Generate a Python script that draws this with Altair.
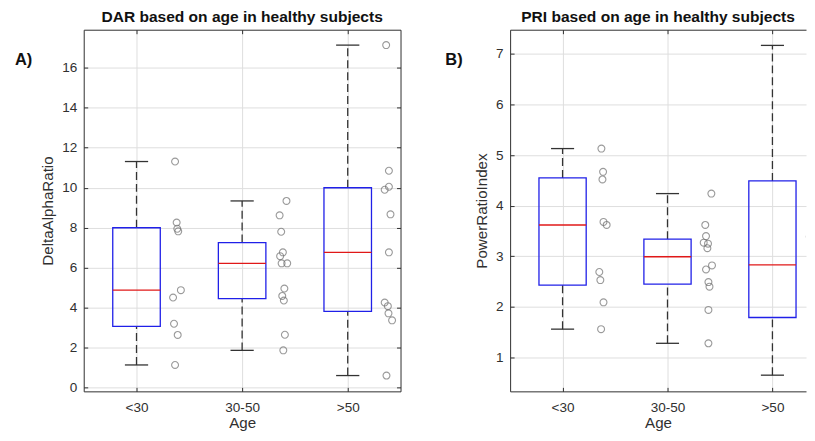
import json
import altair as alt
import pandas as pd

# ---------------- data ----------------
categories = ["<30", "30-50", ">50"]
positions = [1, 2, 3]

# Panel A: DeltaAlphaRatio (box statistics)
dar_q1 = [3.07, 4.46, 3.82]
dar_med = [4.88, 6.22, 6.77]
dar_q3 = [8.00, 7.26, 10.00]
dar_lo = [1.14, 1.87, 0.61]
dar_hi = [11.31, 9.34, 17.13]
dar_ticks = [0, 2, 4, 6, 8, 10, 12, 14, 16]

# Panel A: individual subjects (value, horizontal jitter beside each box)
dar_lt30 = [11.31, 8.26, 7.95, 7.82, 4.88, 4.51, 3.20, 2.64, 1.14]
dar_lt30_jit = [0.365, 0.38, 0.386, 0.395, 0.42, 0.346, 0.355, 0.39, 0.365]
dar_mid = [9.34, 8.62, 7.80, 6.77, 6.58, 6.22, 6.22, 4.96, 4.59, 4.36, 2.65, 1.87]
dar_mid_jit = [0.42, 0.355, 0.37, 0.386, 0.36, 0.374, 0.427, 0.40, 0.38, 0.395, 0.405, 0.39]
dar_gt50 = [17.13, 10.85, 10.05, 9.90, 8.67, 6.77, 4.26, 4.08, 3.72, 3.37, 0.61]
dar_gt50_jit = [0.364, 0.39, 0.39, 0.35, 0.405, 0.39, 0.35, 0.38, 0.386, 0.42, 0.367]

# Panel B: PowerRatioIndex (box statistics)
pri_q1 = [2.43, 2.45, 1.79]
pri_med = [3.62, 2.99, 2.83]
pri_q3 = [4.55, 3.34, 4.49]
pri_lo = [1.56, 1.28, 0.65]
pri_hi = [5.13, 4.24, 7.17]
pri_ticks = [1, 2, 3, 4, 5, 6, 7]

# Panel B: individual subjects
pri_lt30 = [5.13, 4.67, 4.52, 3.68, 3.62, 2.69, 2.53, 2.09, 1.56]
pri_lt30_jit = [0.37, 0.386, 0.38, 0.39, 0.42, 0.35, 0.36, 0.39, 0.367]
pri_mid = [4.24, 3.62, 3.40, 3.27, 3.25, 3.16, 2.82, 2.74, 2.49, 2.40, 1.94, 1.28]
pri_mid_jit = [0.418, 0.36, 0.367, 0.345, 0.386, 0.38, 0.424, 0.367, 0.39, 0.40, 0.39, 0.39]
pri_gt50 = [7.17, 5.73, 4.86, 3.39, 3.15, 3.02, 2.83, 2.60, 1.53, 0.65]
pri_gt50_jit = [0.37, 0.39, 0.39, 0.356, 0.40, 0.39, 0.38, 0.38, 0.37, 0.37]

# ---------------- styling ----------------
FONT = "Liberation Sans"
AXIS_COLOR = "#303030"
GRID_COLOR = "#dedede"
TEXT_COLOR = "#303030"
BOX_W = 0.45
CAP_W = 0.22


def panel(title, letter, letter_x, ylab, q1, med, q3, lo, hi, groups, jits,
          ydomain, yticks, xdomain, width, height, right_border):
    stats = pd.DataFrame({"pos": positions, "q1": q1, "med": med, "q3": q3,
                          "lo": lo, "hi": hi})
    whisk = pd.DataFrame({"pos": positions * 2,
                          "a": list(q3) + list(lo),
                          "b": list(hi) + list(q1)})
    caps = pd.DataFrame({"pos": positions * 2, "v": list(lo) + list(hi)})
    pts = pd.DataFrame({
        "x": [p + j for p, js in zip(positions, jits) for j in js],
        "v": [v for vals in groups for v in vals],
    })

    xs = alt.Scale(domain=xdomain, nice=False, zero=False)
    ys = alt.Scale(domain=ydomain, nice=False, zero=False)
    label_expr = json.dumps(categories) + "[datum.value - 1]"

    ax_bottom = alt.Axis(orient="bottom", values=positions, labelExpr=label_expr,
                         title="Age", grid=True, gridColor=GRID_COLOR, ticks=False,
                         domain=True, domainColor=AXIS_COLOR, labelPadding=9,
                         labelFontSize=13.6, labelColor=TEXT_COLOR, labelFont=FONT,
                         titleFont=FONT, titleFontSize=15.2, titleFontWeight="normal",
                         titleColor=TEXT_COLOR, titlePadding=1.5)
    ax_left = alt.Axis(orient="left", values=yticks, title=ylab, grid=True,
                       gridColor=GRID_COLOR, ticks=False, domain=True,
                       domainColor=AXIS_COLOR, labelPadding=7, labelFontSize=13.6,
                       labelColor=TEXT_COLOR, labelFont=FONT, titleFont=FONT,
                       titleFontSize=15.2, titleFontWeight="normal",
                       titleColor=TEXT_COLOR, titlePadding=6)
    ax_top = alt.Axis(orient="top", labels=False, ticks=False, grid=False,
                      domain=True, domainColor=AXIS_COLOR, title="")
    ax_right = alt.Axis(orient="right", labels=False, ticks=False, grid=False,
                        domain=True, domainColor=AXIS_COLOR, title="")
    tick_common = dict(labels=False, domain=False, grid=False, ticks=True,
                       tickSize=4, offset=-4, tickColor=AXIS_COLOR, title="")
    ax_bottom_in = alt.Axis(orient="bottom", values=positions, **tick_common)
    ax_top_in = alt.Axis(orient="top", values=positions, **tick_common)
    ax_left_in = alt.Axis(orient="left", values=yticks, **tick_common)
    ax_right_in = alt.Axis(orient="right", values=yticks, **tick_common)

    whiskers = alt.Chart(whisk).mark_rule(
        color="#333333", strokeWidth=1.3, strokeDash=[8, 4]
    ).encode(
        x=alt.X("pos:Q", scale=xs, axis=None),
        y=alt.Y("a:Q", scale=ys, axis=None),
        y2="b:Q",
    )

    capl = alt.Chart(caps).transform_calculate(
        c1=f"datum.pos - {CAP_W / 2}", c2=f"datum.pos + {CAP_W / 2}"
    ).mark_rule(color="#333333", strokeWidth=1.3).encode(
        x=alt.X("c1:Q", scale=xs, axis=ax_top_in),
        x2="c2:Q",
        y=alt.Y("v:Q", scale=ys, axis=ax_right_in if right_border else None),
    )

    box = alt.Chart(stats).transform_calculate(
        b1=f"datum.pos - {BOX_W / 2}", b2=f"datum.pos + {BOX_W / 2}"
    ).mark_rect(fillOpacity=0, stroke="#2020e8", strokeWidth=1.3).encode(
        x=alt.X("b1:Q", scale=xs, axis=ax_bottom_in),
        x2="b2:Q",
        y=alt.Y("q1:Q", scale=ys, axis=ax_left_in),
        y2="q3:Q",
    )

    median = alt.Chart(stats).transform_calculate(
        b1=f"datum.pos - {BOX_W / 2}", b2=f"datum.pos + {BOX_W / 2}"
    ).mark_rule(color="#e01818", strokeWidth=1.4).encode(
        x=alt.X("b1:Q", scale=xs, axis=ax_top),
        x2="b2:Q",
        y=alt.Y("med:Q", scale=ys, axis=ax_right if right_border else None),
    )

    points = alt.Chart(pts).mark_point(
        shape="circle", filled=False, size=48, color="#707070",
        strokeWidth=1.1, clip=True
    ).encode(
        x=alt.X("x:Q", scale=xs, axis=ax_bottom),
        y=alt.Y("v:Q", scale=ys, axis=ax_left),
    )

    lab = alt.Chart(pd.DataFrame({"t": [letter]})).mark_text(
        align="left", baseline="alphabetic", fontSize=16.5, fontWeight="bold",
        font=FONT, color="#111111"
    ).encode(x=alt.value(letter_x), y=alt.value(35), text="t:N")

    return alt.layer(whiskers, capl, box, median, points, lab).resolve_axis(
        x="independent", y="independent"
    ).properties(
        width=width, height=height,
        title=alt.TitleParams(title, font=FONT, fontSize=15.6, fontWeight="bold",
                              color="#111111", anchor="middle", offset=4),
    )


panel_a = panel("DAR based on age in healthy subjects", "A)", -69, "DeltaAlphaRatio",
                dar_q1, dar_med, dar_q3, dar_lo, dar_hi,
                [dar_lt30, dar_mid, dar_gt50],
                [dar_lt30_jit, dar_mid_jit, dar_gt50_jit],
                [-0.18, 17.9], dar_ticks, [0.5, 3.5], 318, 363, True)

# the right part of panel B is cut off by the picture edge, as in the reference
panel_b = panel("PRI based on age in healthy subjects", "B)", -65, "PowerRatioIndex",
                pri_q1, pri_med, pri_q3, pri_lo, pri_hi,
                [pri_lt30, pri_mid, pri_gt50],
                [pri_lt30_jit, pri_mid_jit, pri_gt50_jit],
                [0.33, 7.48], pri_ticks, [0.5, 3.32], 297, 363, False)

chart = alt.hconcat(panel_a, panel_b, spacing=43).properties(
    padding={"left": 6, "top": 0, "right": 0, "bottom": 0},
    background="white",
).configure_view(stroke="transparent")

chart.save("out.html", embed_options={"renderer": "svg", "actions": False})
